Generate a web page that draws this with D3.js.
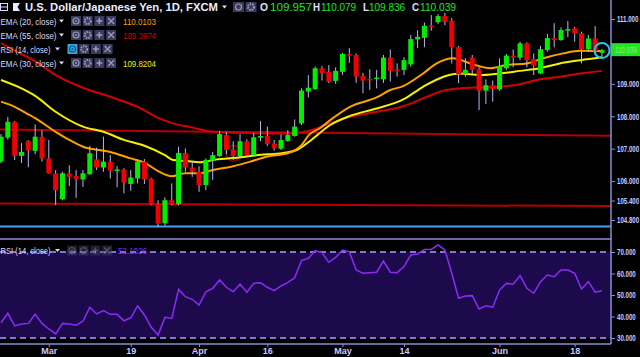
<!DOCTYPE html>
<html>
<head>
<meta charset="utf-8">
<script src="https://cdn.jsdelivr.net/npm/d3@7"></script>
<style>
  html, body { margin: 0; padding: 0; background: #000; overflow: hidden; }
  svg { display: block; }
  text { font-family: "Liberation Sans", Arial, sans-serif; }
</style>
</head>
<body>
<div id="chart"></div>
<script>
var svgWidth = 640;
var svgHeight = 357;

// daily candles, 20 Feb - 22 Jun 2018 (index 0 = first visible bar)
var candleOpen = [106.60,107.34,107.82,106.78,107.24,106.93,107.37,106.70,106.24,105.44,
  106.24,106.16,106.05,106.21,106.67,106.42,106.60,106.32,106.36,105.91,
  106.08,106.60,106.08,105.29,104.70,105.41,105.29,106.87,106.42,106.29,
  105.88,106.63,106.77,107.42,106.98,106.77,107.23,106.80,107.34,107.39,
  107.16,107.00,107.24,107.39,107.78,108.76,108.84,109.48,109.37,109.09,
  109.37,109.92,109.89,109.24,109.15,109.15,109.14,109.81,109.45,109.43,
  109.60,110.37,110.42,110.80,110.90,111.09,110.95,110.13,109.30,109.81,
  109.45,108.79,108.96,108.83,109.48,109.87,109.81,110.25,109.76,109.32,
  110.04,110.41,110.35,110.64,110.71,110.56,110.07,110.40,109.957];
var candleHigh = [107.45,107.98,107.85,107.17,107.26,107.75,107.57,107.27,106.34,106.29,
  106.49,106.34,106.34,107.08,107.03,107.37,106.80,106.46,106.40,106.34,
  106.67,106.68,106.10,105.41,105.50,105.93,107.06,107.01,106.60,106.46,
  106.70,106.90,107.55,107.52,107.23,107.45,107.29,107.49,107.85,107.68,
  107.27,107.44,107.57,107.90,108.86,109.27,109.53,109.55,109.58,109.51,
  109.96,110.10,109.94,109.34,109.45,109.43,109.89,110.06,109.63,109.82,
  110.51,110.65,110.89,111.12,111.15,111.19,111.03,110.17,109.79,109.89,
  109.51,109.14,109.10,109.79,109.92,110.06,110.30,110.28,109.94,110.17,
  110.54,110.87,110.74,110.94,110.76,110.61,110.51,110.78,110.079];
var candleLow = [106.55,107.28,106.65,106.56,106.43,106.83,106.60,106.23,105.26,105.41,
  105.85,105.48,105.82,106.20,106.34,106.29,106.08,105.81,105.62,105.70,
  105.93,105.91,105.25,104.59,104.63,105.25,105.25,106.29,106.13,105.67,
  105.72,106.03,106.75,106.83,106.65,106.70,106.73,106.75,107.23,107.08,
  106.94,106.96,107.21,107.37,107.73,108.58,108.81,109.10,109.02,109.00,
  109.27,109.65,109.03,108.71,108.81,108.86,109.03,109.07,109.22,109.27,
  109.53,110.10,110.13,110.64,110.85,110.81,109.63,109.02,109.22,109.30,
  108.19,108.38,108.45,108.79,109.43,109.51,109.73,109.51,109.27,109.30,
  109.99,110.13,110.33,110.44,110.30,109.63,109.99,109.92,109.836];
var candleClose = [107.37,107.83,106.78,106.90,106.94,107.37,106.70,106.24,105.72,106.24,
  106.13,106.06,106.24,106.86,106.42,106.60,106.32,106.36,105.95,106.11,
  106.60,106.05,105.28,104.69,105.41,105.29,106.87,106.42,106.29,105.88,
  106.65,106.80,107.45,106.96,106.77,107.23,106.80,107.35,107.39,107.14,
  107.01,107.27,107.42,107.68,108.79,108.88,109.48,109.32,109.06,109.40,
  109.92,109.88,109.22,109.10,109.13,109.19,109.81,109.40,109.40,109.73,
  110.38,110.45,110.79,110.76,111.09,110.90,110.13,109.30,109.43,109.43,
  108.79,108.96,108.84,109.55,109.87,109.81,110.25,109.73,109.56,110.07,
  110.41,110.35,110.66,110.69,110.56,110.07,110.40,110.01,110.039];

// RSI(14) per bar
var rsiValues = [37.1,41.5,35.6,36.5,36.8,41.0,36.8,34.2,31.9,36.8,
  36.5,35.9,37.8,44.3,41.2,42.7,41.0,41.0,38.0,39.4,
  45.0,40.7,35.0,31.4,39.6,39.1,52.6,49.2,48.0,45.3,
  51.5,53.1,57.0,53.6,51.5,55.1,51.3,55.4,55.7,53.6,
  52.0,54.2,55.9,58.0,66.0,67.1,70.6,69.7,65.2,67.5,
  70.9,70.1,61.6,60.1,60.4,60.6,65.8,60.6,60.4,63.2,
  68.6,69.1,71.2,71.2,73.3,70.9,60.1,48.5,49.5,49.7,
  43.5,45.0,44.3,52.3,55.4,55.0,59.0,53.1,50.8,56.2,
  59.3,58.5,61.6,61.6,60.1,52.8,56.2,51.3,52.0];

// EMA lines as [bar index, price]
var ema20 = [[0,108.45],[2,108.29],[4,108.06],[5,107.94],[8,107.52],[10,107.27],[12,107.06],[16,106.90],
  [19,106.70],[21,106.57],[23,106.31],[25,106.15],[27,106.24],[29,106.24],[31,106.34],[34,106.46],
  [36.5,106.60],[39,106.76],[42,106.86],[44,107.11],[45.2,107.45],[46.7,107.63],[48.2,107.88],
  [51.1,108.29],[55,108.58],[57,108.81],[58.9,108.93],[61.8,109.32],[63.8,109.63],[66.2,109.79],
  [68.7,109.63],[71.6,109.48],[74,109.58],[77,109.63],[79.4,109.79],[82.3,109.94],[84.8,110.02],[88,110.01]];
var ema30 = [[0,109.12],[3,108.86],[5,108.63],[8,108.14],[12,107.68],[15,107.52],[18,107.27],[21,107.09],
  [24,106.80],[25.2,106.65],[27.2,106.62],[29,106.58],[31.6,106.67],[34.5,106.72],[37.4,106.80],
  [41.3,106.87],[43.3,106.96],[45.2,107.23],[48.2,107.73],[51.1,108.01],[55,108.24],[58.9,108.52],
  [61.8,108.91],[64.8,109.22],[67.2,109.32],[70.1,109.27],[73,109.32],[76,109.40],[78.9,109.48],
  [81.8,109.63],[84.8,109.73],[88,109.82]];
var ema55 = [[0,110.26],[1.3,110.10],[5,109.70],[8,109.27],[12,108.88],[16,108.60],[20,108.29],[23,107.95],
  [25.2,107.78],[28.1,107.65],[31,107.52],[34,107.49],[38.9,107.47],[42.8,107.47],[45.2,107.56],
  [48.2,107.78],[51.1,107.98],[55,108.14],[58.9,108.31],[61.8,108.55],[64.8,108.79],[67.2,108.86],
  [70.1,108.89],[73,108.91],[76,108.99],[78.9,109.14],[81.8,109.22],[84.8,109.32],[88,109.40]];

// drawn horizontal / trend lines: price at left edge and right edge
var lineStart = [107.59, 105.31, 104.60];
var lineEnd = [107.40, 105.23, 104.60];
var lineColors = ["#b40000", "#b40000", "#4f9cf5"];

var timeTickIdx = [7, 19, 29, 39, 50, 59, 73, 84];
var timeTickLabels = ["Mar", "19", "Apr", "16", "May", "14", "Jun", "18"];
var priceTicks = [111, 109, 108, 107, 106, 105.4, 104.8];
var rsiTicks = [70, 60, 50, 40, 30];

var axisX = 611;
var lavender = "#c8c8ff";
var squeeze = 0.68; // horizontal squeeze of the right-hand scale labels

var svg = d3.select("#chart")
    .append("svg")
    .attr("width", svgWidth)
    .attr("height", svgHeight);

svg.append("rect")
    .attr("width", svgWidth)
    .attr("height", svgHeight)
    .attr("fill", "#000");

// Step 1: scales
var xScale = d3.scaleLinear().domain([0, 88]).range([1, 602]);
var yScale = d3.scaleLinear().domain([104.8, 111]).range([220, 19]);
var rsiScale = d3.scaleLinear().domain([30, 70]).range([338, 252]);

// Step 2: RSI pane background + bands
svg.append("rect")
    .attr("x", 0)
    .attr("y", rsiScale(70))
    .attr("width", axisX)
    .attr("height", rsiScale(30) - rsiScale(70))
    .attr("fill", "#1c0a4d");

svg.selectAll(".band")
    .data([70, 30])
    .enter()
    .append("line")
    .attr("x1", 0)
    .attr("x2", axisX)
    .attr("y1", d => rsiScale(d))
    .attr("y2", d => rsiScale(d))
    .attr("stroke", "#a99cff")
    .attr("stroke-width", 1.5)
    .attr("stroke-dasharray", "6,4");

// Step 3: trend lines
svg.selectAll(".trend")
    .data(lineStart)
    .enter()
    .append("line")
    .attr("x1", 0)
    .attr("x2", axisX)
    .attr("y1", d => yScale(d))
    .attr("y2", (d, i) => yScale(lineEnd[i]))
    .attr("stroke", (d, i) => lineColors[i])
    .attr("stroke-width", 2);

// small hand drawn circle around one bar
svg.append("ellipse")
    .attr("cx", xScale(34))
    .attr("cy", yScale(106.86))
    .attr("rx", 7)
    .attr("ry", 8)
    .attr("fill", "none")
    .attr("stroke", "#8a0000")
    .attr("stroke-width", 1.5);

// Step 4: EMA lines
var emaLine = d3.line()
    .x(d => xScale(d[0]))
    .y(d => yScale(d[1]))
    .curve(d3.curveMonotoneX);

[[ema55, "#d40000"], [ema30, "#f2f200"], [ema20, "#ff9f00"]].forEach(function (s) {
    svg.append("path")
        .datum(s[0])
        .attr("d", emaLine)
        .attr("fill", "none")
        .attr("stroke", s[1])
        .attr("stroke-width", 2);
});

// Step 5: candles
var bars = svg.selectAll(".bar")
    .data(candleOpen)
    .enter()
    .append("g");

bars.append("line")
    .attr("x1", (d, i) => xScale(i))
    .attr("x2", (d, i) => xScale(i))
    .attr("y1", (d, i) => yScale(candleHigh[i]))
    .attr("y2", (d, i) => yScale(candleLow[i]))
    .attr("stroke", "#b8b8ee")
    .attr("stroke-width", 1);

bars.append("rect")
    .attr("x", (d, i) => xScale(i) - 2.5)
    .attr("width", 5)
    .attr("y", (d, i) => yScale(Math.max(d, candleClose[i])))
    .attr("height", (d, i) => Math.max(1.5, Math.abs(yScale(d) - yScale(candleClose[i]))))
    .attr("fill", (d, i) => candleClose[i] >= d ? "#00ee00" : "#f00000");

// last bar marker
svg.append("circle")
    .attr("cx", xScale(88))
    .attr("cy", yScale(110.03))
    .attr("r", 7.5)
    .attr("fill", "none")
    .attr("stroke", "#22c8f0")
    .attr("stroke-width", 2);

// Step 6: RSI line
var rsiLine = d3.line()
    .x((d, i) => xScale(i))
    .y(d => rsiScale(d));

svg.append("path")
    .datum(rsiValues)
    .attr("d", rsiLine)
    .attr("fill", "none")
    .attr("stroke", "#8b2cf5")
    .attr("stroke-width", 1.5);

// Step 7: frame lines
svg.append("line")
    .attr("x1", 0).attr("x2", axisX)
    .attr("y1", 239).attr("y2", 239)
    .attr("stroke", "#8c8cd8").attr("stroke-width", 1.5);
svg.append("line")
    .attr("x1", 0).attr("x2", axisX)
    .attr("y1", 344).attr("y2", 344)
    .attr("stroke", "#8c8cd8").attr("stroke-width", 1.5);
svg.append("line")
    .attr("x1", axisX).attr("x2", axisX)
    .attr("y1", 0).attr("y2", 344)
    .attr("stroke", "#8c8cd8").attr("stroke-width", 1.5);

// Step 8: axes
function styleAxis(g, fit) {
    g.select(".domain").remove();
    g.selectAll("line").attr("stroke", "#8c8cd8");
    var t = g.selectAll("text")
        .attr("fill", lavender)
        .attr("font-size", 9)
        .attr("font-weight", "bold");
    // right-hand labels are squeezed so they end at the window edge
    if (fit) {
        t.attr("x", 6 / squeeze).attr("transform", `scale(${squeeze},1)`);
    }
}

svg.append("g")
    .attr("transform", `translate(${axisX}, 0)`)
    .call(d3.axisRight(yScale).tickValues(priceTicks).tickFormat(d3.format(".3f")).tickSize(4).tickPadding(2))
    .call(styleAxis, true);

svg.append("g")
    .attr("transform", `translate(${axisX}, 0)`)
    .call(d3.axisRight(rsiScale).tickValues(rsiTicks).tickFormat(d3.format(".3f")).tickSize(4).tickPadding(2))
    .call(styleAxis, true);

svg.append("g")
    .attr("transform", "translate(0, 344)")
    .call(d3.axisBottom(xScale).tickValues(timeTickIdx).tickFormat((d, i) => timeTickLabels[i]).tickSize(3).tickPadding(1))
    .call(styleAxis, false);

// last price label
var lastY = yScale(candleClose[88]);
svg.append("rect")
    .attr("x", axisX)
    .attr("y", lastY - 7)
    .attr("width", svgWidth - axisX)
    .attr("height", 13)
    .attr("fill", "#22e622");
svg.append("text")
    .attr("transform", `translate(${axisX + 4}, ${lastY + 3}) scale(${squeeze},1)`)
    .attr("font-size", 9)
    .attr("fill", "#8fe88f")
    .text(d3.format(".3f")(candleClose[88]));

// Step 9: legends
function iconBoxes(x0, yc, step, active, faded) {
    for (var k = 0; k < 4; k++) {
        var bx = x0 + k * step;
        var g = svg.append("g").attr("opacity", faded ? 0.55 : 1);
        g.append("rect")
            .attr("x", bx).attr("y", yc - 5)
            .attr("width", 10).attr("height", 10)
            .attr("fill", (k === 0 && active) ? "#2aa8e6" : "#3a3a5e");
        var c = bx + 5;
        var ink = (k === 0 && active) ? "#17507a" : "#9a9abc";
        if (k === 0) {
            g.append("circle").attr("cx", c).attr("cy", yc).attr("r", 3)
                .attr("fill", "none").attr("stroke", ink).attr("stroke-width", 1.2);
            g.append("circle").attr("cx", c).attr("cy", yc).attr("r", 1).attr("fill", ink);
        } else if (k === 1) {
            g.append("circle").attr("cx", c).attr("cy", yc).attr("r", 3)
                .attr("fill", "none").attr("stroke", ink).attr("stroke-width", 2)
                .attr("stroke-dasharray", "1.5,1");
        } else if (k === 2) {
            g.append("path").attr("d", `M${c - 3},${yc}H${c + 3}M${c},${yc - 3}V${yc + 3}`)
                .attr("stroke", ink).attr("stroke-width", 1.5);
        } else {
            g.append("path").attr("d", `M${c - 3},${yc - 3}L${c + 3},${yc + 3}M${c + 3},${yc - 3}L${c - 3},${yc + 3}`)
                .attr("stroke", ink).attr("stroke-width", 1.3);
        }
    }
}

function legendText(x, y, txt, len, color, size, weight) {
    svg.append("text")
        .attr("x", x)
        .attr("y", y)
        .attr("font-size", size)
        .attr("font-weight", weight || "normal")
        .attr("fill", color)
        .attr("textLength", len)
        .attr("lengthAdjust", "spacingAndGlyphs")
        .text(txt);
}

// small dropdown arrow as a shape
function caret(x, yc) {
    svg.append("path")
        .attr("d", `M${x},${yc - 1.5}h5l-2.5,3z`)
        .attr("fill", "#dcdcff");
}

// title row
svg.append("rect").attr("x", 0.5).attr("y", 3.5).attr("width", 7).attr("height", 7)
    .attr("fill", "none").attr("stroke", "#dcdcff");
svg.append("line").attr("x1", 1).attr("x2", 7).attr("y1", 7).attr("y2", 7).attr("stroke", "#dcdcff");
svg.append("path").attr("d", "M13,3H20L17.5,7L20,11H13Z").attr("fill", "#e8e8ff");
legendText(25, 11, "U.S. Dollar/Japanese Yen, 1D, FXCM", 193, "#ececff", 11, "bold");
caret(222, 7);
[233, 245.5].forEach(function (bx, k) {
    svg.append("rect").attr("x", bx).attr("y", 2).attr("width", 11).attr("height", 10).attr("fill", "#3a3a5e");
    svg.append("circle").attr("cx", bx + 5.5).attr("cy", 7).attr("r", 3)
        .attr("fill", "none").attr("stroke", "#9a9abc").attr("stroke-width", k ? 2 : 1.2)
        .attr("stroke-dasharray", k ? "1.5,1" : null);
});
legendText(260, 11, "O", 8, "#e0e0ff", 11, "bold");
legendText(270, 11, d3.format(".3f")(candleOpen[88]), 42, "#1ee81e", 11);
legendText(313, 11, "H", 7, "#e0e0ff", 11, "bold");
legendText(321, 11, d3.format(".3f")(candleHigh[88]), 35, "#1ee81e", 11);
legendText(363, 11, "L", 6, "#e0e0ff", 11, "bold");
legendText(369, 11, d3.format(".3f")(candleLow[88]), 36, "#1ee81e", 11);
legendText(412, 11, "C", 7, "#e0e0ff", 11, "bold");
legendText(420, 11, d3.format(".3f")(candleClose[88]), 36, "#1ee81e", 11);

// indicator rows in the price pane
var legendRows = [
    {name: "EMA (20, close)", value: "110.0103", color: "#ff9f00", y: 21},
    {name: "EMA (55, close)", value: "109.3974", color: "#c80000", y: 35},
    {name: "RSI (14, close)", value: "", color: "", y: 49},
    {name: "EMA (30, close)", value: "109.8204", color: "#eeee00", y: 63}
];
legendRows.forEach(function (r) {
    var isRsi = r.name.indexOf("RSI") === 0;
    legendText(0.5, r.y + 3.5, r.name, isRsi ? 50 : 56, "#dcdcff", 9.5);
    caret(isRsi ? 55 : 59, r.y);
    iconBoxes(isRsi ? 67.5 : 71, r.y, 11.7, isRsi, false);
    if (r.value) legendText(123, r.y + 3.5, r.value, 33, r.color, 9.5);
});

// legend inside RSI pane
legendText(0.5, 254, "RSI (14, close)", 50, "#dcdcff", 9.5);
caret(55, 250.5);
iconBoxes(67, 250.5, 11.7, false, true);
legendText(118, 254, d3.format(".4f")(52.1026), 29, "#8b2cf5", 9.5);
</script>
</body>
</html>
